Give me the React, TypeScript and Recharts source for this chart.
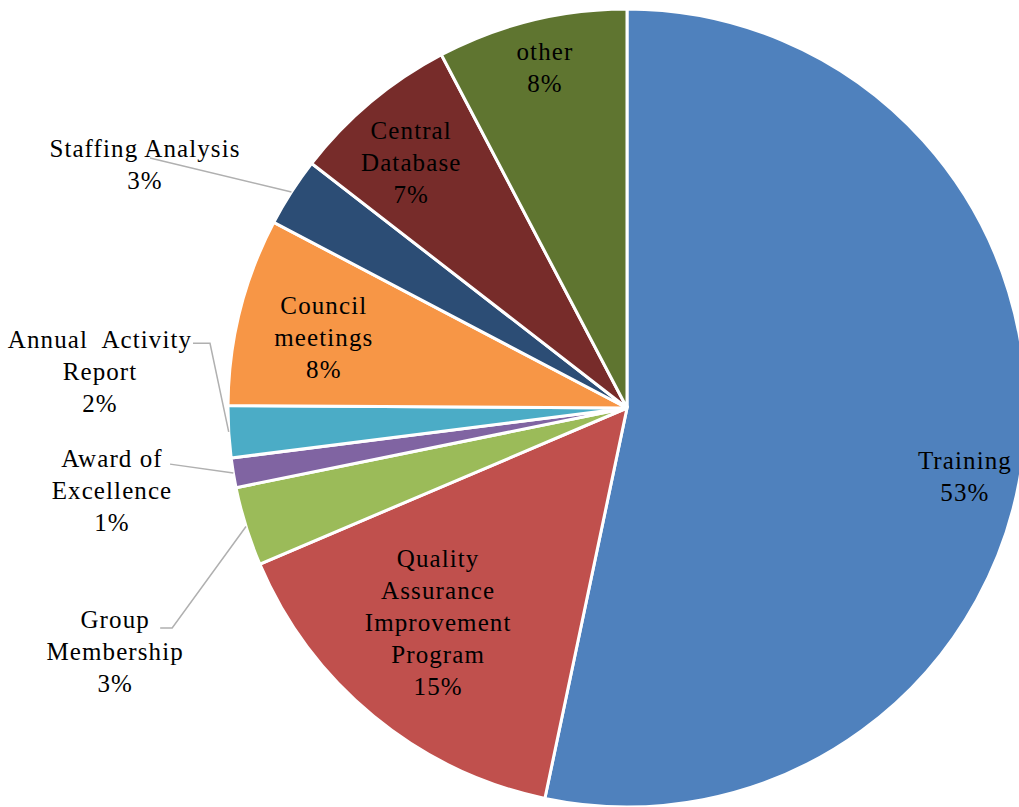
import { PieChart, Pie, Cell } from 'recharts';

// data, clockwise from 12 o'clock
const categories = [
  'Training',
  'Quality Assurance Improvement Program',
  'Group Membership',
  'Award of Excellence',
  'Annual Activity Report',
  'Council meetings',
  'Staffing Analysis',
  'Central Database',
  'other',
];
const shares = [53.3, 15.3, 3.2, 1.2, 2.1, 7.6, 2.8, 6.8, 7.7];
const labelLines = [
  ['Training'],
  ['Quality', 'Assurance', 'Improvement', 'Program'],
  ['Group', 'Membership'],
  ['Award of', 'Excellence'],
  ['Annual  Activity', 'Report'],
  ['Council', 'meetings'],
  ['Staffing Analysis'],
  ['Central', 'Database'],
  ['other'],
];
const colors = [
  '#4F81BD', '#C0504D', '#9BBB59', '#8064A2', '#4BACC6',
  '#F79646', '#2C4D75', '#772C2A', '#5F7530',
];

// label placement: radius as fraction of outer radius, angle shift from midAngle,
// optional leader points relative to the label centre
interface Placement { r: number; dA: number; leader?: [number, number][] }
const placements: Placement[] = [
  { r: 0.864, dA: -5.5 },
  { r: 0.717, dA: -1.9 },
  { r: 1.421, dA: 8.2, leader: [[57, -24], [45, -24]] },
  { r: 1.307, dA: -0.3, leader: [[58, -26]] },
  { r: 1.324, dA: -7.4, leader: [[110, -28], [93, -28]] },
  { r: 0.78, dA: 1.0 },
  { r: 1.353, dA: 6.0, leader: [[5, -7]] },
  { r: 0.82, dA: 1.3 },
  { r: 0.877, dA: -0.3 },
];

const data = categories.map((name, i) => ({ name, value: shares[i] }));

const RAD = Math.PI / 180;
const LINE_H = 32;

function renderLabel(props: any) {
  const { cx, cy, midAngle, outerRadius, index } = props;
  const p = placements[index];
  const a = (midAngle + p.dA) * RAD;
  const tx = cx + outerRadius * p.r * Math.cos(a);
  const ty = cy - outerRadius * p.r * Math.sin(a);
  const lines = [...labelLines[index], `${Math.round(shares[index])}%`];
  const top = ty - ((lines.length - 1) * LINE_H) / 2;

  let leader = null;
  if (p.leader) {
    const m = midAngle * RAD;
    const ex = cx + outerRadius * Math.cos(m);
    const ey = cy - outerRadius * Math.sin(m);
    const pts = [[ex, ey], ...p.leader.map(([dx, dy]) => [tx + dx, ty + dy])];
    leader = (
      <polyline
        points={pts.map((q) => q.join(',')).join(' ')}
        fill="none"
        stroke="#B0B0B0"
        strokeWidth={1.5}
      />
    );
  }

  return (
    <g key={`lbl-${index}`}>
      {leader}
      <text
        textAnchor="middle"
        fill="#000"
        fontFamily="'Liberation Serif', 'Times New Roman', serif"
        fontSize={25}
        letterSpacing={1.1}
      >
        {lines.map((t, i) => (
          <tspan key={i} x={tx} y={top + i * LINE_H} dominantBaseline="central" style={{ whiteSpace: 'pre' }}>
            {t}
          </tspan>
        ))}
      </text>
    </g>
  );
}

export default function App() {
  return (
    <div style={{ position: 'absolute', left: 0, top: 0, width: 1019, height: 807, background: '#fff', overflow: 'hidden' }}>
      <PieChart width={1019} height={807} margin={{ top: 0, right: 0, bottom: 0, left: 0 }}>
        <Pie
          data={data}
          dataKey="value"
          nameKey="name"
          cx={627}
          cy={408}
          outerRadius={399}
          startAngle={90}
          endAngle={-270}
          stroke="#fff"
          strokeWidth={3}
          label={renderLabel}
          labelLine={false}
          isAnimationActive={false}
        >
          {data.map((d, i) => (
            <Cell key={d.name} fill={colors[i]} />
          ))}
        </Pie>
      </PieChart>
    </div>
  );
}
